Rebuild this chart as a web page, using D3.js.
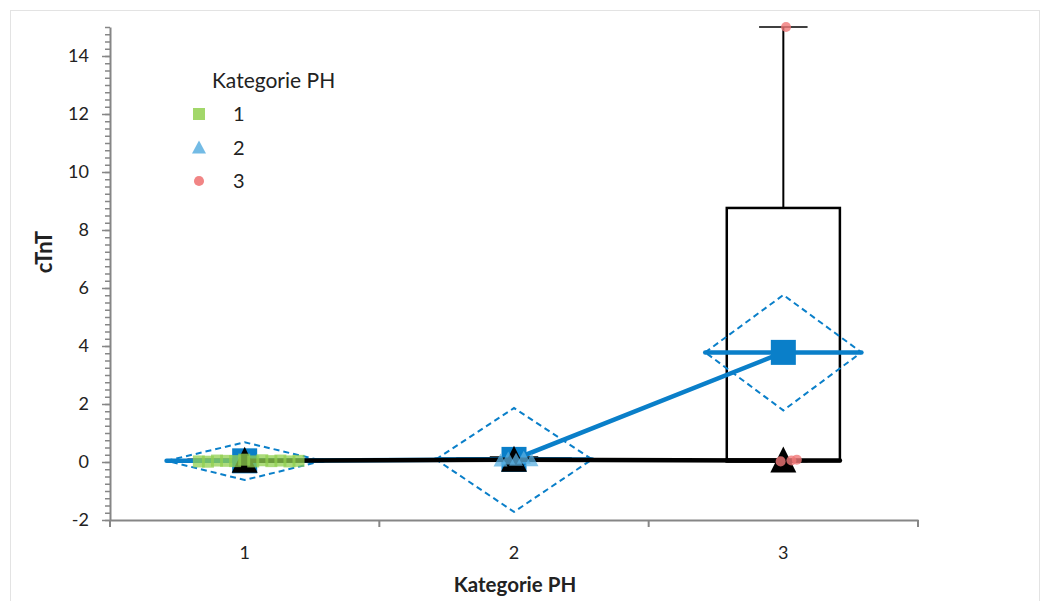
<!DOCTYPE html>
<html>
<head>
<meta charset="utf-8">
<script src="https://cdn.jsdelivr.net/npm/d3@7"></script>
<style>
  body { margin: 0; background: #fff; }
  text { font-family: Lato, "Open Sans", sans-serif; }
</style>
</head>
<body>
<div id="root"></div>
<script>
// categories and summary stats per "Kategorie PH"
const categories = ["1", "2", "3"];
const means = [0.04, 0.09, 3.78];
const ciLow = [-0.62, -1.72, 1.78];
const ciHigh = [0.68, 1.86, 5.76];
const boxQ1 = [0.02, 0.05, 0.03];
const boxMedian = [0.04, 0.08, 0.05];
const boxQ3 = [0.05, 0.12, 8.76];
const whiskerLow = [0.01, 0.05, 0.02];
const whiskerHigh = [0.08, 0.17, 15];

// raw points
const cat1Values = [0.02, 0.01, 0.05, 0.04, 0.03, 0.08, 0.02, 0.06, 0.03, 0.05, 0.02, 0.04];
const cat2Values = [0.05, 0.12, 0.08, 0.15, 0.06];
const cat3Values = [0.02, 15, 0.05, 0.08];

const yTicks = [-2, 0, 2, 4, 6, 8, 10, 12, 14];

const width = 1049;
const height = 601;
const blue = "#0a7fc9";

const svg = d3.select("#root")
  .append("svg")
    .attr("width", width)
    .attr("height", height);

svg.append("rect")
  .attr("x", 10.5).attr("y", 10.5)
  .attr("width", 1029).attr("height", 620)
  .attr("fill", "none").attr("stroke", "#e3e3e3");

const x = d3.scaleBand().domain(categories).range([110, 918]);
const y = d3.scaleLinear().domain([-2, 15]).range([520, 27]);
const bw = x.bandwidth();
const cx = c => x(c) + bw / 2;

// axes
const minor = svg.append("g")
  .attr("transform", "translate(110,0)")
  .call(d3.axisLeft(y).tickValues(d3.range(-2, 15.001, 0.25)).tickSize(5).tickSizeOuter(0).tickFormat(""));
minor.selectAll("line").attr("stroke", "#868686").attr("stroke-width", 1.5);
minor.select(".domain").attr("stroke", "#868686").attr("stroke-width", 2);

const yAxis = svg.append("g")
  .attr("transform", "translate(110,0)")
  .call(d3.axisLeft(y).tickValues(yTicks).tickSize(8).tickPadding(13).tickSizeOuter(0).tickFormat(d => String(d)));
yAxis.select(".domain").remove();
yAxis.selectAll("line").attr("stroke", "#868686").attr("stroke-width", 1.5);
yAxis.selectAll("text").attr("font-size", 18).attr("fill", "#222").style("font-family", "Lato");

const xAxis = svg.append("g")
  .attr("transform", "translate(0,520)")
  .call(d3.axisBottom(x).tickSize(0).tickPadding(26));
xAxis.select(".domain").attr("stroke", "#868686").attr("stroke-width", 2);
xAxis.selectAll("text").attr("font-size", 18).attr("fill", "#222").style("font-family", "Lato");

const bounds = categories.map(c => x(c)).concat([x(categories[2]) + bw]);
xAxis.selectAll(".bound")
  .data(bounds)
  .join("line")
    .attr("x1", d => d).attr("x2", d => d)
    .attr("y1", 0).attr("y2", 7)
    .attr("stroke", "#868686").attr("stroke-width", 2);

svg.append("text")
  .attr("x", 515).attr("y", 592)
  .attr("text-anchor", "middle")
  .attr("font-size", 20.5).attr("font-weight", "bold").attr("fill", "#222")
  .text("Kategorie PH");

svg.append("text")
  .attr("transform", "translate(52,252) rotate(-90)")
  .attr("text-anchor", "middle")
  .attr("font-size", 22).attr("font-weight", "bold").attr("fill", "#222")
  .text("cTnT");

const groups = categories.map((c, i) => ({
  c, mean: means[i], lo: ciLow[i], hi: ciHigh[i],
  q1: boxQ1[i], med: boxMedian[i], q3: boxQ3[i], wl: whiskerLow[i], wh: whiskerHigh[i]
}));

// box plots
const boxHalf = bw * 0.21;
const capHalf = bw * 0.09;
const box = svg.append("g");
box.selectAll(".whisker")
  .data(groups)
  .join("line")
    .attr("x1", d => cx(d.c)).attr("x2", d => cx(d.c))
    .attr("y1", d => y(d.wh)).attr("y2", d => y(d.wl))
    .attr("stroke", "#000").attr("stroke-width", 2);
box.selectAll(".cap")
  .data(groups.flatMap(d => [{c: d.c, v: d.wh}, {c: d.c, v: d.wl}]))
  .join("line")
    .attr("x1", d => cx(d.c) - capHalf).attr("x2", d => cx(d.c) + capHalf)
    .attr("y1", d => y(d.v)).attr("y2", d => y(d.v))
    .attr("stroke", "#000").attr("stroke-width", 1.5);
box.selectAll("rect")
  .data(groups)
  .join("rect")
    .attr("x", d => cx(d.c) - boxHalf).attr("width", 2 * boxHalf)
    .attr("y", d => y(d.q3)).attr("height", d => y(d.q1) - y(d.q3))
    .attr("fill", "#fff").attr("stroke", "#000").attr("stroke-width", 2.5);
box.selectAll(".median")
  .data(groups)
  .join("line")
    .attr("x1", d => cx(d.c) - boxHalf).attr("x2", d => cx(d.c) + boxHalf)
    .attr("y1", d => y(d.med)).attr("y2", d => y(d.med))
    .attr("stroke", "#000").attr("stroke-width", 4.5).attr("stroke-linecap", "round");

// means diamonds
const diaHalf = bw * 0.29;
svg.append("g").selectAll("path")
  .data(groups)
  .join("path")
    .attr("d", d => `M${cx(d.c) - diaHalf},${y(d.mean)}L${cx(d.c)},${y(d.hi)}L${cx(d.c) + diaHalf},${y(d.mean)}L${cx(d.c)},${y(d.lo)}Z`)
    .attr("fill", "none").attr("stroke", blue).attr("stroke-width", 2).attr("stroke-dasharray", "6,4");

svg.append("g").selectAll("line")
  .data(groups)
  .join("line")
    .attr("x1", d => cx(d.c) - diaHalf).attr("x2", d => cx(d.c) + diaHalf)
    .attr("y1", d => y(d.mean)).attr("y2", d => y(d.mean))
    .attr("stroke", blue).attr("stroke-width", 4.5).attr("stroke-linecap", "round");

svg.append("path")
  .datum(groups)
  .attr("d", d3.line().x(d => cx(d.c)).y(d => y(d.mean)))
  .attr("fill", "none").attr("stroke", blue).attr("stroke-width", 4.5);

svg.append("g").selectAll("rect")
  .data(groups)
  .join("rect")
    .attr("x", d => cx(d.c) - 12.5).attr("y", d => y(d.mean) - 12.5)
    .attr("width", 25).attr("height", 25)
    .attr("fill", blue);

// median connecting line + median triangles
svg.append("path")
  .datum(groups)
  .attr("d", d3.line().x(d => cx(d.c)).y(d => y(d.med)))
  .attr("fill", "none").attr("stroke", "#000").attr("stroke-width", 4.5);

svg.append("g").selectAll("path")
  .data(groups)
  .join("path")
    .attr("transform", d => `translate(${cx(d.c)},${y(d.med)})`)
    .attr("d", "M0,-14L13,12L-13,12Z")
    .attr("fill", "#000");

// raw points
const jitterSpan = [[-0.17, 0.2], [-0.05, 0.065], [-0.01, 0.05]];
const pointSets = [cat1Values, cat2Values, cat3Values];
const pts = pointSets.flatMap((vals, i) => {
  const j = d3.scalePoint().domain(d3.range(vals.length)).range(jitterSpan[i]);
  return vals.map((v, k) => ({c: categories[i], v, g: i, off: j(k)}));
});

const shapes = [
  {fill: "#92d050", path: "M-6,-6H6V6H-6Z", op: 0.75},
  {fill: "#5aafe0", path: "M0,-7L7,6L-7,6Z", op: 0.75},
  {fill: "#f07878", path: d3.symbol(d3.symbolCircle, 80)(), op: 0.8}
];

svg.append("g").selectAll("path")
  .data(pts)
  .join("path")
    .attr("transform", d => `translate(${cx(d.c) + d.off * bw},${y(d.v)})`)
    .attr("d", d => shapes[d.g].path)
    .attr("fill", d => shapes[d.g].fill)
    .attr("fill-opacity", d => shapes[d.g].op);

// legend
const legend = svg.append("g").attr("transform", "translate(199,0)");
legend.append("text")
  .attr("x", 13).attr("y", 88)
  .attr("font-size", 21).attr("fill", "#222")
  .text("Kategorie PH");
const item = legend.selectAll(".item")
  .data(categories)
  .join("g")
    .attr("transform", (d, i) => `translate(0,${114 + i * 33.5})`);
item.append("path")
  .attr("d", (d, i) => shapes[i].path)
  .attr("fill", (d, i) => shapes[i].fill)
  .attr("fill-opacity", (d, i) => shapes[i].op + 0.1);
item.append("text")
  .attr("x", 34).attr("dy", "0.36em")
  .attr("font-size", 20).attr("fill", "#222")
  .text(d => d);
</script>
</body>
</html>
